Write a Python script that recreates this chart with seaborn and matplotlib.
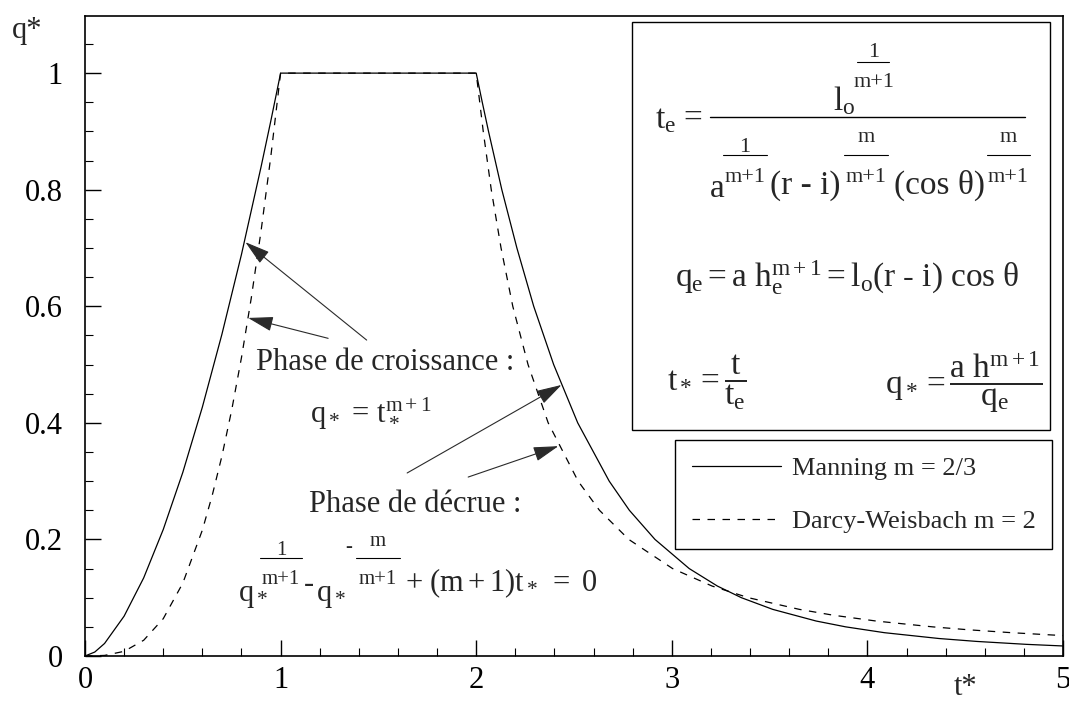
import matplotlib
matplotlib.use("Agg")
import matplotlib.pyplot as plt
from matplotlib.patches import Rectangle
from matplotlib.lines import Line2D
from matplotlib.ticker import MultipleLocator
import seaborn as sns

# Dimensionless hydrographs: q* versus t* for two friction laws
manning_t = [0, 0.05, 0.1, 0.2, 0.3, 0.4, 0.5, 0.6, 0.7, 0.8, 0.9, 0.95, 1.0,
             2.0, 2.031, 2.063, 2.131, 2.208, 2.294, 2.396, 2.519, 2.680, 2.783,
             2.914, 3.089, 3.233, 3.356, 3.516, 3.738, 3.889, 4.087, 4.366,
             4.559, 4.812, 5.0]
manning_q = [0, 0.0068, 0.0215, 0.0684, 0.134, 0.217, 0.315, 0.427, 0.552,
             0.689, 0.839, 0.918, 1.0,
             1.0, 0.95, 0.9, 0.8, 0.7, 0.6, 0.5, 0.4, 0.3, 0.25,
             0.2, 0.15, 0.12, 0.1, 0.08, 0.06, 0.05, 0.04, 0.03,
             0.025, 0.02, 0.0172]

darcy_t = [0, 0.1, 0.2, 0.3, 0.4, 0.5, 0.6, 0.65, 0.7, 0.75, 0.8, 0.85, 0.9,
           0.95, 1.0,
           2.0, 2.036, 2.077, 2.127, 2.187, 2.265, 2.368, 2.521, 2.630, 2.780,
           3.004, 3.206, 3.392, 3.652, 3.825, 4.044, 4.333, 4.516, 4.736,
           4.947, 5.0]
darcy_q = [0, 0.001, 0.008, 0.027, 0.064, 0.125, 0.216, 0.275, 0.343, 0.422,
           0.512, 0.614, 0.729, 0.857, 1.0,
           1.0, 0.9, 0.8, 0.7, 0.6, 0.5, 0.4, 0.3, 0.25, 0.2,
           0.15, 0.12, 0.1, 0.08, 0.07, 0.06, 0.05, 0.045, 0.04,
           0.036, 0.0351]

series_labels = ["Manning m = 2/3", "Darcy-Weisbach m = 2"]
x_ticks = [0, 1, 2, 3, 4, 5]
x_tick_labels = ["0", "1", "2", "3", "4", "5"]
y_ticks = [0, 0.2, 0.4, 0.6, 0.8, 1.0]
y_tick_labels = ["0", "0.2", "0.4", "0.6", "0.8", "1"]

sns.set_theme(style="ticks")
plt.rcParams["font.family"] = ["Liberation Serif", "DejaVu Serif"]
plt.rcParams["mathtext.fontset"] = "stix"
plt.rcParams["mathtext.default"] = "regular"

W, H = 1069, 703
fig = plt.figure(figsize=(W / 100, H / 100), dpi=100)
fig.patch.set_facecolor("white")


def fx(px):
    return px / W


def fy(py):
    return 1 - py / H


ax = fig.add_axes([fx(85), fy(656), fx(1063) - fx(85), fy(16) - fy(656)])
ax.set_facecolor("white")

sns.lineplot(x=manning_t, y=manning_q, sort=False, estimator=None,
             color="black", lw=0.9, label=series_labels[0], ax=ax)
sns.lineplot(x=darcy_t, y=darcy_q, sort=False, estimator=None,
             color="black", lw=0.9, linestyle=(0, (6, 6)),
             label=series_labels[1], ax=ax)

ax.set_xlim(0, 5)
ax.set_ylim(0, 1.098)
ax.set_xticks(x_ticks)
ax.set_xticklabels(x_tick_labels)
ax.set_yticks(y_ticks)
ax.set_yticklabels(y_tick_labels)
ax.xaxis.set_minor_locator(MultipleLocator(0.2))
ax.yaxis.set_minor_locator(MultipleLocator(0.05))
ax.tick_params(which="both", direction="in", colors="black",
               top=False, right=False)
ax.tick_params(which="major", length=11.5, width=1.0, labelsize=22)
ax.tick_params(which="minor", length=5.5, width=0.8)
ax.tick_params(axis="y", which="major", pad=16)
ax.tick_params(axis="x", which="major", pad=7)
ax.set_xlabel("")
ax.set_ylabel("")
for sp in ax.spines.values():
    sp.set_visible(True)
    sp.set_color("black")
    sp.set_linewidth(1.2)

leg = ax.legend(loc="upper right", bbox_to_anchor=(0.989, 0.3375),
                fontsize=19, frameon=True, fancybox=False, edgecolor="black",
                framealpha=1, handlelength=3.4, handletextpad=0.4,
                labelspacing=1.12, borderpad=0.62, borderaxespad=0)
leg.get_frame().set_linewidth(1.0)

# Axis names
fig.text(fx(12), fy(38), "q*", fontsize=22, ha="left", va="baseline")
fig.text(fx(966), fy(695), "t*", fontsize=22, ha="center", va="baseline")


# Helpers for typeset pieces placed in pixel units (origin top-left)
def put(x, y, s, size, ha="left", va="baseline"):
    fig.text(fx(x), fy(y), s, fontsize=size, ha=ha, va=va)


def hbar(x0, x1, y, lw=0.9):
    fig.add_artist(Line2D([fx(x0), fx(x1)], [fy(y), fy(y)],
                          transform=fig.transFigure, color="black", lw=lw))


def exp_frac(xc, x0, x1, y_bar, num, y_num, den, y_den, size):
    hbar(x0, x1, y_bar, lw=0.8)
    put(xc, y_num, num, size, ha="center")
    put(xc, y_den, den, size, ha="center")


# Phase annotations
ax.text(1.535, 0.49, "Phase de croissance :", fontsize=22,
        ha="center", va="baseline")
ax.text(1.458, 0.40, r"$q_* \,=\, t_*^{m+1}$", fontsize=22,
        ha="center", va="baseline")
ax.text(1.688, 0.247, "Phase de décrue :", fontsize=22,
        ha="center", va="baseline")

# Recession equation
SMALL = 15
put(238, 601, r"$q_*$", 22)
exp_frac(281, 260, 302, 558, "1", 555, "m+1", 584, SMALL)
put(309, 592, "-", 22, ha="center")
put(316, 601, r"$q_*$", 22)
put(349, 552, "-", SMALL, ha="center")
exp_frac(378, 356, 400, 558, "m", 546, "m+1", 584, SMALL)
put(405, 591, r"$+\ (m + 1)t_*\ =\ 0$", 22)

arrow_style = dict(arrowstyle="-|>,head_length=1.3,head_width=0.38",
                   color="#2a2a2a", lw=0.8, shrinkA=0, shrinkB=0,
                   mutation_scale=12)
arrows = [((1.44, 0.542), (0.82, 0.71)),
          ((1.243, 0.545), (0.834, 0.58)),
          ((1.647, 0.314), (2.436, 0.465)),
          ((1.959, 0.307), (2.42, 0.36))]
for tail, head in arrows:
    ax.annotate("", xy=head, xytext=tail, arrowprops=arrow_style)

# Definitions box
fig.add_artist(Rectangle((fx(632), fy(430)), fx(1050) - fx(632),
                         fy(22) - fy(430), transform=fig.transFigure,
                         fill=False, lw=1.0, ec="black"))
BIG = 24
BSM = 16
# t_e = l_o^(1/(m+1)) / (a^(1/(m+1)) (r - i)^(m/(m+1)) (cos θ)^(m/(m+1)))
put(655, 128, r"$t_e$", BIG)
put(683, 127, "=", BIG)
hbar(710, 1025, 117, lw=1.0)
put(833, 110, r"$l_o$", BIG)
exp_frac(874, 857, 889, 62, "1", 57, "m+1", 87, BSM)
put(710, 197, "a", BIG)
exp_frac(745, 723, 767, 155, "1", 152, "m+1", 182, BSM)
put(805, 194, "(r - i)", BIG, ha="center")
exp_frac(866, 844, 888, 155, "m", 142, "m+1", 182, BSM)
put(940, 194, "(cos θ)", BIG, ha="center")
exp_frac(1008, 987, 1030, 155, "m", 142, "m+1", 182, BSM)

fig.text(fx(847), fy(287),
         r"$q_e = a\ h_e^{m+1} = l_o(r\ \text{-}\ i)\ cos\ \theta$",
         fontsize=BIG, ha="center", va="baseline")
fig.text(fx(667), fy(382), r"$t_* = \dfrac{t}{t_e}$",
         fontsize=BIG, ha="left", va="center")
fig.text(fx(885), fy(382), r"$q_* = \dfrac{a\ h^{m+1}}{q_e}$",
         fontsize=BIG, ha="left", va="center")

fig.savefig("out.png", dpi=100, facecolor="white")
